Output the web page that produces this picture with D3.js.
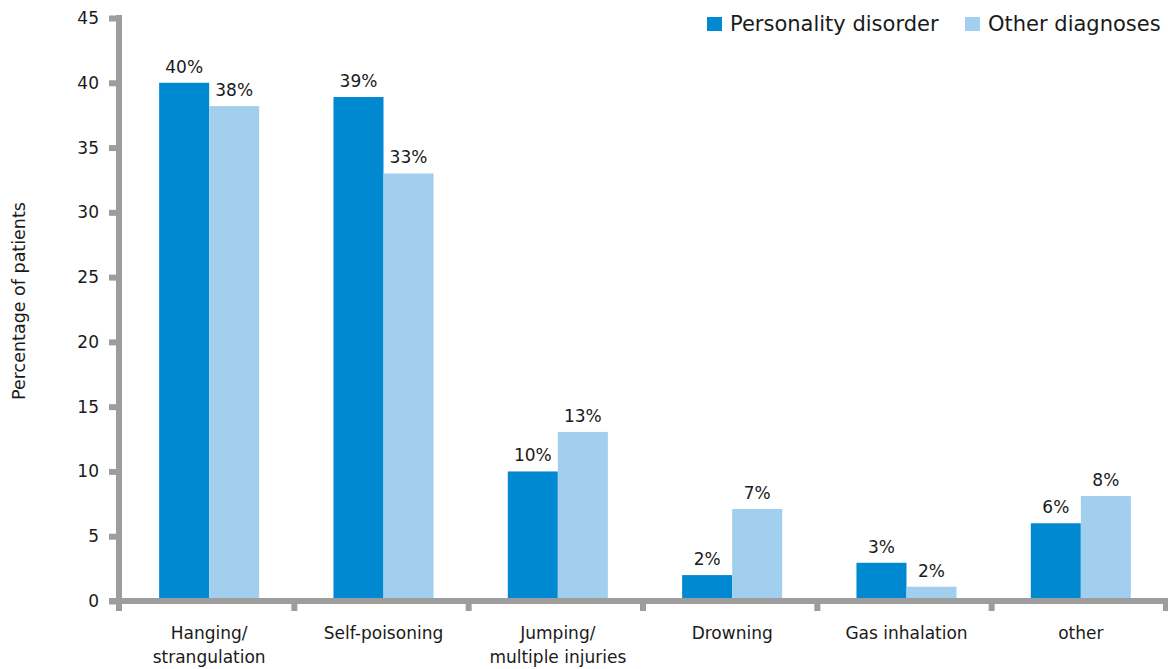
<!DOCTYPE html>
<html>
<head>
<meta charset="utf-8">
<script src="https://cdn.jsdelivr.net/npm/d3@7"></script>
<style>
  html, body { margin: 0; padding: 0; background: #fff; }
  svg { display: block; font-family: "DejaVu Sans", sans-serif; }
</style>
</head>
<body>
<svg id="chart" width="1168" height="669"></svg>
<script>
const categories = [["Hanging/", "strangulation"], ["Self-poisoning"], ["Jumping/", "multiple injuries"], ["Drowning"], ["Gas inhalation"], ["other"]];
const seriesNames = ["Personality disorder", "Other diagnoses"];
const personalityDisorder = [40, 38.9, 10, 2, 2.95, 6];
const otherDiagnoses = [38.2, 33, 13.05, 7.1, 1.1, 8.1];
const pdLabels = ["40%", "39%", "10%", "2%", "3%", "6%"];
const odLabels = ["38%", "33%", "13%", "7%", "2%", "8%"];
const yTicks = [0, 5, 10, 15, 20, 25, 30, 35, 40, 45];
const colors = ["#0089d1", "#a3cfef"];
const axisColor = "#9d9d9d";
const textColor = "#1a1a1a";
const FONT = "'DejaVu Sans', sans-serif";

const svg = d3.select("#chart");
const keys = categories.map((c, i) => "c" + i);

const axisStart = 120;
const x = d3.scaleBand().domain(keys).range([axisStart + 2, 1168]).paddingInner(0.426).paddingOuter(0.213);
const xs = d3.scaleBand().domain([0, 1]).range([0, x.bandwidth()]);
const y = d3.scaleLinear().domain([0, 45]).range([601, 18]);

const data = keys.map((k, i) => ({ key: k, vals: [personalityDisorder[i], otherDiagnoses[i]], labels: [pdLabels[i], odLabels[i]] }));

// bars
const g = svg.append("g");
data.forEach(d => {
  d.vals.forEach((v, j) => {
    g.append("rect")
      .attr("x", x(d.key) + xs(j))
      .attr("y", y(v))
      .attr("width", xs.bandwidth())
      .attr("height", y(0) - y(v))
      .attr("fill", colors[j]);
    g.append("text")
      .attr("x", x(d.key) + xs(j) + xs.bandwidth() / 2)
      .attr("y", y(v) - 10)
      .attr("text-anchor", "middle")
      .attr("font-size", 17)
      .attr("fill", textColor)
      .text(d.labels[j]);
  });
});

// y axis
const yAxis = svg.append("g")
  .attr("transform", "translate(119,0)")
  .call(d3.axisLeft(y).tickValues(yTicks).tickSize(10).tickSizeOuter(0).tickPadding(10));
yAxis.select(".domain").remove();
yAxis.selectAll(".tick line").attr("stroke", axisColor).attr("stroke-width", 6);
yAxis.selectAll(".tick text").attr("font-size", 17).attr("fill", textColor).attr("font-family", FONT);
svg.append("line")
  .attr("x1", 119).attr("x2", 119)
  .attr("y1", y(45) - 3).attr("y2", y(0) + 10)
  .attr("stroke", axisColor).attr("stroke-width", 6);

// x axis
svg.append("line")
  .attr("x1", 109).attr("x2", 1168)
  .attr("y1", y(0)).attr("y2", y(0))
  .attr("stroke", axisColor).attr("stroke-width", 6);
const bounds = d3.range(1, keys.length + 1).map(i => axisStart + i * x.step());
svg.selectAll(".xtick").data(bounds).enter().append("line")
  .attr("x1", d => d).attr("x2", d => d)
  .attr("y1", y(0)).attr("y2", y(0) + 10)
  .attr("stroke", axisColor).attr("stroke-width", 6);

// category labels
data.forEach((d, i) => {
  const t = svg.append("text")
    .attr("x", x(d.key) + x.bandwidth() / 2)
    .attr("y", 639)
    .attr("text-anchor", "middle")
    .attr("font-size", 17)
    .attr("fill", textColor);
  categories[i].forEach((line, li) => {
    t.append("tspan").attr("x", x(d.key) + x.bandwidth() / 2).attr("dy", li === 0 ? 0 : 24).text(line);
  });
});

// y title
svg.append("text")
  .attr("transform", "translate(25,301) rotate(-90)")
  .attr("text-anchor", "middle")
  .attr("font-size", 17.5)
  .attr("fill", textColor)
  .text("Percentage of patients");

// legend
const legendX = [707, 965];
seriesNames.forEach((n, j) => {
  svg.append("rect").attr("x", legendX[j]).attr("y", 17).attr("width", 15).attr("height", 14).attr("fill", colors[j]);
  svg.append("text").attr("x", legendX[j] + 23).attr("y", 31).attr("font-size", 21).attr("fill", textColor).text(n);
});
</script>
</body>
</html>
